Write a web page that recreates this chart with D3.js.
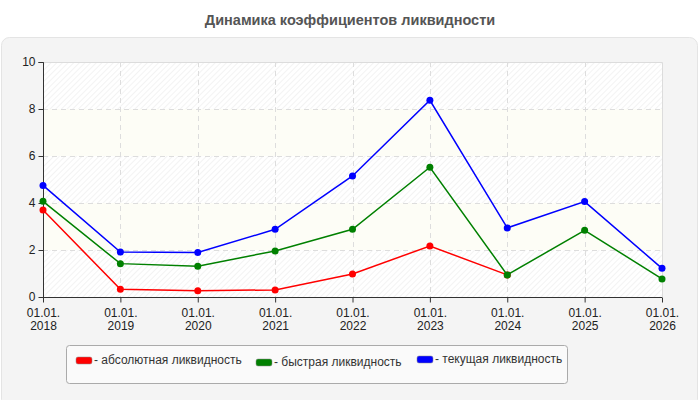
<!DOCTYPE html>
<html>
<head>
<meta charset="utf-8">
<script src="https://cdn.jsdelivr.net/npm/d3@7"></script>
<style>
  body { margin: 0; background: #fff; font-family: "Liberation Sans", Arial, sans-serif; }
</style>
</head>
<body>
<div id="chart"></div>
<script>
// data
const dates = ["01.01.2018", "01.01.2019", "01.01.2020", "01.01.2021", "01.01.2022",
               "01.01.2023", "01.01.2024", "01.01.2025", "01.01.2026"];
const absolute = [3.70, 0.33, 0.27, 0.30, 0.98, 2.17, 0.94];
const quick = [4.07, 1.42, 1.31, 1.96, 2.88, 5.52, 0.94, 2.84, 0.77];
const current = [4.75, 1.91, 1.89, 2.88, 5.15, 8.37, 2.94, 4.06, 1.22];
const seriesNames = ["абсолютная ликвидность", "быстрая ликвидность", "текущая ликвидность"];
const yTicks = [0, 2, 4, 6, 8, 10];

const w = 700, h = 400;
const plotLeft = 43, plotRight = 662, plotTop = 62, plotBottom = 297;

const color = d3.scaleOrdinal()
    .domain(seriesNames)
    .range(["#ff0000", "#008000", "#0000ff"]);

const series = [absolute, quick, current].map((vals, i) => ({
    name: seriesNames[i],
    points: vals.map((v, j) => ({ date: dates[j], value: v }))
}));

const svg = d3.select("#chart").append("svg")
    .attr("width", w)
    .attr("height", h);

//hatch pattern for the plot background
const defs = svg.append("defs");
const pat = defs.append("pattern")
    .attr("id", "hatch")
    .attr("patternUnits", "userSpaceOnUse")
    .attr("width", 4)
    .attr("height", 4)
    .attr("patternTransform", "rotate(45)");
pat.append("rect").attr("width", 4).attr("height", 4).attr("fill", "#ffffff");
pat.append("line").attr("x1", 0).attr("y1", 0).attr("x2", 0).attr("y2", 4)
    .attr("stroke", "#ececec").attr("stroke-width", 1.2);

//title
svg.append("text")
    .attr("x", w / 2)
    .attr("y", 25)
    .attr("text-anchor", "middle")
    .style("font-size", "14.5px")
    .style("font-weight", "bold")
    .attr("fill", "#555")
    .text("Динамика коэффициентов ликвидности");

//panel
svg.append("rect")
    .attr("x", 1.5).attr("y", 37.5)
    .attr("width", 696).attr("height", 370)
    .attr("rx", 8)
    .attr("fill", "#f4f4f4")
    .attr("stroke", "#e4e4e4");

const xScale = d3.scalePoint()
    .domain(dates)
    .range([plotLeft, plotRight]);

const yScale = d3.scaleLinear()
    .domain([0, 10])
    .range([plotBottom, plotTop]);

//alternating background bands
const bands = d3.pairs(yTicks);
svg.selectAll(".band")
    .data(bands)
    .enter()
    .append("rect")
    .attr("x", plotLeft)
    .attr("y", d => yScale(d[1]))
    .attr("width", plotRight - plotLeft)
    .attr("height", d => yScale(d[0]) - yScale(d[1]))
    .attr("fill", (d, i) => i % 2 === 0 ? "url(#hatch)" : "#fdfdf6");

//plot frame (top and right)
svg.append("path")
    .attr("d", `M${plotLeft},${plotTop + 0.5}H${plotRight + 0.5}V${plotBottom}`)
    .attr("fill", "none")
    .attr("stroke", "#dcdcdc");

//grid
svg.append("g")
    .selectAll("line")
    .data(yTicks.slice(1, -1))
    .enter()
    .append("line")
    .attr("x1", plotLeft).attr("x2", plotRight)
    .attr("y1", d => Math.round(yScale(d)) + 0.5)
    .attr("y2", d => Math.round(yScale(d)) + 0.5)
    .attr("stroke", "#dddddd")
    .attr("stroke-dasharray", "5,4");

svg.append("g")
    .selectAll("line")
    .data(dates.slice(1, -1))
    .enter()
    .append("line")
    .attr("x1", d => Math.round(xScale(d)) + 0.5)
    .attr("x2", d => Math.round(xScale(d)) + 0.5)
    .attr("y1", plotTop).attr("y2", plotBottom)
    .attr("stroke", "#dddddd")
    .attr("stroke-dasharray", "5,4");

//axes
const yAxis = d3.axisLeft(yScale)
    .tickValues(yTicks)
    .tickSize(5)
    .tickPadding(3);

const xAxis = d3.axisBottom(xScale)
    .tickSize(5)
    .tickFormat("");

svg.append("g")
    .attr("transform", `translate(${plotLeft + 0.5}, 0)`)
    .attr("color", "#333")
    .call(yAxis)
    .call(g => g.select(".domain").attr("d", `M-5,${plotTop + 0.5}H0V${plotBottom}`))
    .selectAll("text")
    .style("font-size", "12px")
    .style("font-family", "Liberation Sans, Arial, sans-serif")
    .attr("fill", "#222");

const xg = svg.append("g")
    .attr("transform", `translate(0, ${plotBottom + 0.5})`)
    .attr("color", "#333")
    .call(xAxis);
xg.select(".domain").attr("d", `M${plotLeft},0H${plotRight}`);

xg.selectAll(".tick")
    .append("text")
    .attr("fill", "#222")
    .attr("text-anchor", "middle")
    .style("font-size", "12px")
    .style("font-family", "Liberation Sans, Arial, sans-serif")
    .selectAll("tspan")
    .data(d => [d.slice(0, 6), d.slice(6)])
    .enter()
    .append("tspan")
    .attr("x", 0)
    .attr("y", (d, i) => 19 + i * 13)
    .text(d => d);

//lines and markers
const line = d3.line()
    .x(d => xScale(d.date))
    .y(d => yScale(d.value));

const groups = svg.selectAll(".series")
    .data(series)
    .enter()
    .append("g");

groups.append("path")
    .attr("d", d => line(d.points))
    .attr("fill", "none")
    .attr("stroke", d => color(d.name))
    .attr("stroke-width", 1.5);

groups.selectAll("circle")
    .data(d => d.points.map(p => ({ ...p, name: d.name })))
    .enter()
    .append("circle")
    .attr("cx", d => xScale(d.date))
    .attr("cy", d => yScale(d.value))
    .attr("r", 3.5)
    .attr("fill", d => color(d.name));

//legend
svg.append("rect")
    .attr("x", 66.5).attr("y", 345.5)
    .attr("width", 501).attr("height", 38)
    .attr("rx", 3)
    .attr("fill", "#fafafa")
    .attr("stroke", "#aaaaaa");

const legendX = [76, 256, 417];
const legendDy = [0, 2, -1];

const legend = svg.selectAll(".legend")
    .data(seriesNames)
    .enter()
    .append("g")
    .attr("transform", (d, i) => `translate(${legendX[i]}, ${357 + legendDy[i]})`);

legend.append("rect")
    .attr("width", 16)
    .attr("height", 7)
    .attr("rx", 2)
    .attr("fill", color)
    .attr("stroke", "#888")
    .attr("stroke-width", 0.5);

legend.append("text")
    .attr("x", 18)
    .attr("y", 7)
    .style("font-size", "12px")
    .attr("fill", "#333")
    .text(d => "- " + d);
</script>
</body>
</html>
